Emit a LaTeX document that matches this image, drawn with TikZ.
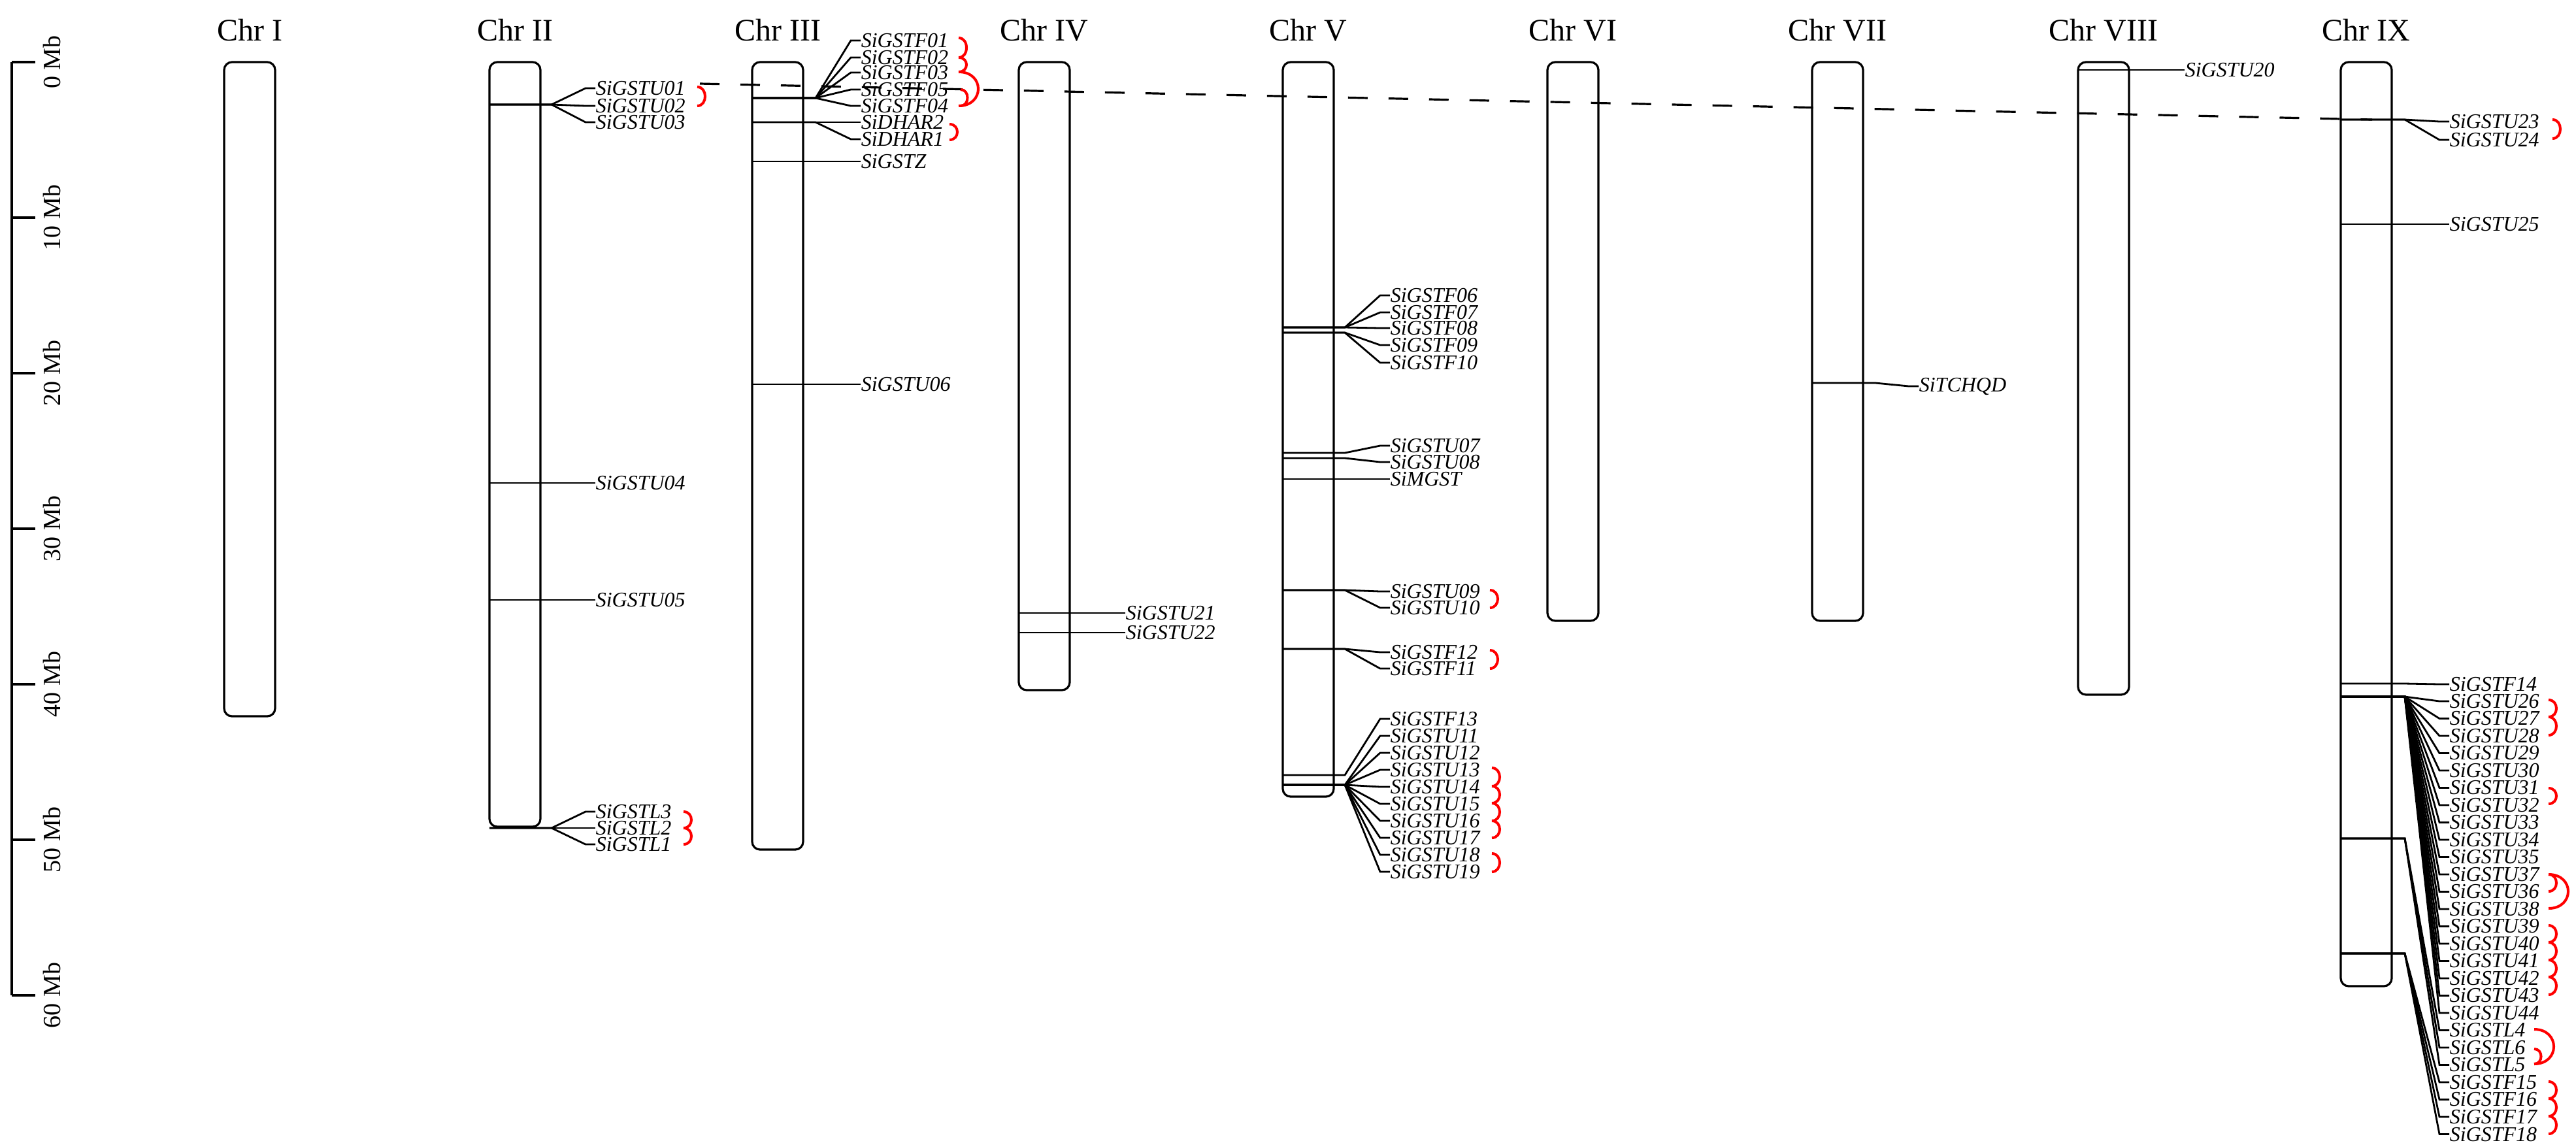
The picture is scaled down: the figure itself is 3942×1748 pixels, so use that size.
\documentclass[tikz,border=0pt]{standalone}
\usepackage{fontspec}
\setmainfont{Liberation Serif}
\begin{document}
\begin{tikzpicture}[x=0.25pt,y=-0.25pt,
  chr/.style={line width=0.8pt,rounded corners=3pt},
  gl/.style={line width=0.7pt},
  lab/.style={anchor=west,inner sep=0pt,font=\fontsize{8}{8}\selectfont\itshape},
  ttl/.style={font=\fontsize{12}{12}\selectfont},
  rl/.style={font=\fontsize{9.5}{9.5}\selectfont,rotate=90},
  pair/.style={red,line width=1pt}]
\useasboundingbox (0,0) rectangle (3942,1748);
\newcommand\gn[7]{%
  \node[lab] (#1) at (#5,#6) {#7};
  \draw[gl] (#2,#3) -- (#4,#3) -- ({#5-15},#6) -- (#1.west);}
\newcommand\pr[4]{\draw[pair] (#1,#2) .. controls ({#1+#4},#2) and ({#1+#4},#3) .. (#1,#3);}
% ruler
\draw[line width=0.8pt] (18,95) -- (18,1523);
\foreach \k in {0,...,6}{
  \draw[line width=0.8pt] (18,{95+238*\k}) -- (54,{95+238*\k});
  \node[rl] (r\k) at (80,{95+238*\k}) {\the\numexpr\k*10\relax{} Mb};}
% chromosomes
\foreach \nm/\L/\B in {I/343/1096,II/749/1265,III/1151/1300,IV/1559/1056,V/1963/1219,VI/2368/950,VII/2773/950,VIII/3180/1063,IX/3582/1509}{
  \draw[chr] (\L,95) rectangle ({\L+78},\B);
  \node[ttl] (t\nm) at ({\L+39},46) {Chr \nm};}
% dashed link
\coordinate (d1) at (1071,128); \coordinate (d2) at (3630,183);
\draw[line width=0.8pt,dash pattern=on 7.5pt off 8pt] (d1) -- (d2);
% Chr II
\gn{U01}{749}{160}{844}{911}{135}{SiGSTU01}
\gn{U02}{749}{160}{844}{911}{162}{SiGSTU02}
\gn{U03}{749}{160}{844}{911}{187}{SiGSTU03}
\gn{U04}{749}{739}{844}{911}{739}{SiGSTU04}
\gn{U05}{749}{918}{844}{911}{918}{SiGSTU05}
\gn{L3}{749}{1267}{844}{911}{1242}{SiGSTL3}
\gn{L2}{749}{1267}{844}{911}{1267}{SiGSTL2}
\gn{L1}{749}{1267}{844}{911}{1292}{SiGSTL1}
% Chr III
\gn{F01}{1151}{150}{1248}{1317}{62}{SiGSTF01}
\gn{F02}{1151}{150}{1248}{1317}{88}{SiGSTF02}
\gn{F03}{1151}{150}{1248}{1317}{111}{SiGSTF03}
\gn{F05}{1151}{150}{1248}{1317}{137}{SiGSTF05}
\gn{F04}{1151}{150}{1248}{1317}{162}{SiGSTF04}
\gn{DHAR2}{1151}{187}{1248}{1317}{187}{SiDHAR2}
\gn{DHAR1}{1151}{187}{1248}{1317}{213}{SiDHAR1}
\gn{GSTZ}{1151}{247}{1248}{1317}{247}{SiGSTZ}
\gn{U06}{1151}{588}{1248}{1317}{588}{SiGSTU06}
% Chr IV
\gn{U21}{1559}{938}{1650}{1722}{938}{SiGSTU21}
\gn{U22}{1559}{968}{1650}{1722}{968}{SiGSTU22}
% Chr V
\gn{F06}{1963}{501}{2058}{2127}{452}{SiGSTF06}
\gn{F07}{1963}{501}{2058}{2127}{478}{SiGSTF07}
\gn{F08}{1963}{501}{2058}{2127}{502}{SiGSTF08}
\gn{F09}{1963}{509}{2058}{2127}{528}{SiGSTF09}
\gn{F10}{1963}{509}{2058}{2127}{555}{SiGSTF10}
\gn{U07}{1963}{693}{2058}{2127}{682}{SiGSTU07}
\gn{U08}{1963}{701}{2058}{2127}{707}{SiGSTU08}
\gn{MGST}{1963}{733}{2058}{2127}{733}{SiMGST}
\gn{U09}{1963}{903}{2058}{2127}{905}{SiGSTU09}
\gn{U10}{1963}{903}{2058}{2127}{930}{SiGSTU10}
\gn{F12}{1963}{993}{2058}{2127}{998}{SiGSTF12}
\gn{F11}{1963}{993}{2058}{2127}{1023}{SiGSTF11}
\gn{F13}{1963}{1186}{2058}{2127}{1100}{SiGSTF13}
\foreach \n [count=\i from 0] in {U11,U12,U13,U14,U15,U16,U17,U18,U19}{
  \gn{\n}{1963}{1201}{2058}{2127}{1126+26*\i}{SiGST\n}}
% Chr VII, VIII
\gn{TCHQD}{2773}{586}{2870}{2936}{591}{SiTCHQD}
\gn{U20}{3180}{107}{3270}{3343}{107}{SiGSTU20}
% Chr IX
\gn{U23}{3582}{183}{3680}{3748}{186}{SiGSTU23}
\gn{U24}{3582}{183}{3680}{3748}{214}{SiGSTU24}
\gn{U25}{3582}{343}{3680}{3748}{343}{SiGSTU25}
\gn{F14}{3582}{1046}{3680}{3748}{1047}{SiGSTF14}
\foreach \n [count=\i from 0] in {U26,U27,U28,U29,U30,U31,U32,U33,U34,U35,U37,U36,U38,U39,U40,U41,U42,U43,U44}{
  \gn{\n}{3582}{1066}{3680}{3748}{1073+26.5*\i}{SiGST\n}}
\foreach \n [count=\i from 19] in {L4,L6,L5}{
  \gn{\n}{3582}{1283}{3680}{3748}{1073+26.5*\i}{SiGST\n}}
\foreach \n [count=\i from 22] in {F15,F16,F17,F18}{
  \gn{\n}{3582}{1459}{3680}{3748}{1073+26.5*\i}{SiGST\n}}
% red pair marks
\pr{1067}{133}{162}{16}
\pr{1046}{1242}{1267}{16}\pr{1046}{1267}{1292}{16}
\pr{1467}{58}{88}{16}\pr{1467}{88}{110}{16}\pr{1467}{110}{162}{40}\pr{1470}{137}{162}{14}
\pr{1453}{190}{214}{16}
\pr{2280}{903}{930}{16}\pr{2280}{995}{1023}{16}
\pr{2283}{1175}{1203}{16}\pr{2283}{1203}{1229}{16}\pr{2283}{1229}{1256}{16}\pr{2283}{1256}{1282}{16}
\pr{2283}{1306}{1334}{16}
\pr{3906}{183}{212}{16}
\pr{3900}{1071}{1097}{16}\pr{3900}{1097}{1125}{16}
\pr{3900}{1206}{1230}{16}
\pr{3900}{1338}{1364}{16}\pr{3900}{1338}{1390}{40}
\pr{3900}{1416}{1442}{16}\pr{3900}{1442}{1469}{16}\pr{3900}{1469}{1495}{16}\pr{3900}{1495}{1522}{16}
\pr{3878}{1575}{1628}{40}\pr{3878}{1605}{1628}{14}
\pr{3900}{1655}{1681}{16}\pr{3900}{1681}{1708}{16}\pr{3900}{1708}{1735}{16}
\end{tikzpicture}
\end{document}
